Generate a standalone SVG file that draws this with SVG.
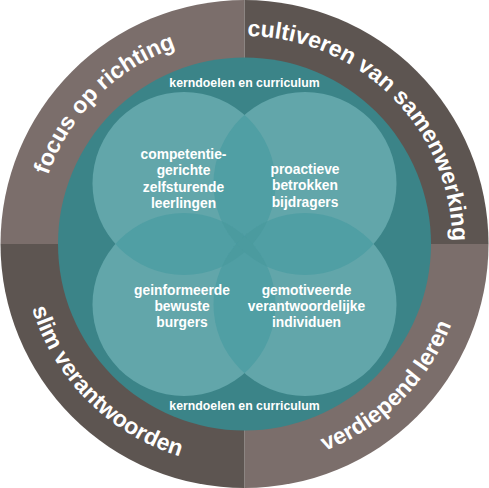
<svg xmlns="http://www.w3.org/2000/svg" xmlns:xlink="http://www.w3.org/1999/xlink" width="489" height="488" viewBox="0 0 489 488">
<style>
.ring{font-family:"Liberation Sans",Arial,sans-serif;font-weight:bold;font-size:23px;fill:#ffffff}
.lbl{font-family:"Liberation Sans",Arial,sans-serif;font-weight:bold;font-size:13.8px;fill:#ffffff;text-anchor:middle}
.cur{font-family:"Liberation Sans",Arial,sans-serif;font-weight:bold;font-size:12.3px;fill:#ffffff;text-anchor:middle}
.light{fill:#7b6e6b}
.dark{fill:#5d5551}
.c{fill:#62a6aa}
.ov{fill:#509fa4}
.ov3{fill:#4b9b9f}
</style>
<defs>
<path id="pTL" d="M36.5 244 A208 208 0 0 1 244.5 36"/>
<path id="pTR" d="M244.5 36 A208 208 0 0 1 452.5 244"/>
<path id="pBL" d="M22.5 244 A222 222 0 0 0 244.5 466"/>
<path id="pBR" d="M244.5 466 A222 222 0 0 0 466.5 244"/>
<clipPath id="kTL"><circle cx="184" cy="183.5" r="91.5"/></clipPath>
<clipPath id="kTR"><circle cx="305" cy="183.5" r="91.5"/></clipPath>
<clipPath id="kBL"><circle cx="184" cy="304.5" r="91.5"/></clipPath>
<clipPath id="kBR"><circle cx="305" cy="304.5" r="91.5"/></clipPath>
</defs>
<g id="outer-ring">
<path class="light" d="M244.5 244 L0.5 244 A244 244 0 0 1 244.5 0 Z"/>
<path class="dark" d="M244.5 244 L244.5 0 A244 244 0 0 1 488.5 244 Z"/>
<path class="light" d="M244.5 244 L488.5 244 A244 244 0 0 1 244.5 488 Z"/>
<path class="dark" d="M244.5 244 L244.5 488 A244 244 0 0 1 0.5 244 Z"/>
<text class="ring"><textPath xlink:href="#pTL" href="#pTL" startOffset="50%" text-anchor="middle">focus op richting</textPath></text>
<text class="ring"><textPath xlink:href="#pTR" href="#pTR" startOffset="50%" text-anchor="middle">cultiveren van samenwerking</textPath></text>
<text class="ring"><textPath xlink:href="#pBL" href="#pBL" startOffset="50%" text-anchor="middle">slim verantwoorden</textPath></text>
<text class="ring"><textPath xlink:href="#pBR" href="#pBR" startOffset="50%" text-anchor="middle">verdiepend leren</textPath></text>
</g>
<g id="curriculum">
<circle cx="244.5" cy="244" r="186.5" fill="#3b8488"/>
<text class="cur" x="244.5" y="87">kerndoelen en curriculum</text>
<text class="cur" x="244.5" y="410">kerndoelen en curriculum</text>
</g>
<g id="circles">
<circle class="c" cx="184" cy="183.5" r="91.5"/>
<circle class="c" cx="305" cy="183.5" r="91.5"/>
<circle class="c" cx="184" cy="304.5" r="91.5"/>
<circle class="c" cx="305" cy="304.5" r="91.5"/>
<g id="overlaps">
<circle class="ov" cx="305" cy="183.5" r="91.5" clip-path="url(#kTL)"/>
<circle class="ov" cx="184" cy="304.5" r="91.5" clip-path="url(#kTL)"/>
<circle class="ov" cx="305" cy="304.5" r="91.5" clip-path="url(#kTL)"/>
<circle class="ov" cx="184" cy="304.5" r="91.5" clip-path="url(#kTR)"/>
<circle class="ov" cx="305" cy="304.5" r="91.5" clip-path="url(#kTR)"/>
<circle class="ov" cx="305" cy="304.5" r="91.5" clip-path="url(#kBL)"/>
<g clip-path="url(#kTL)"><circle class="ov3" cx="305" cy="183.5" r="91.5" clip-path="url(#kBL)"/></g>
<g clip-path="url(#kTL)"><circle class="ov3" cx="305" cy="183.5" r="91.5" clip-path="url(#kBR)"/></g>
<g clip-path="url(#kTL)"><circle class="ov3" cx="184" cy="304.5" r="91.5" clip-path="url(#kBR)"/></g>
<g clip-path="url(#kTR)"><circle class="ov3" cx="184" cy="304.5" r="91.5" clip-path="url(#kBR)"/></g>
</g>
</g>
<g id="node-competentie">
<text class="lbl" x="183.5" y="158.5">competentie-</text>
<text class="lbl" x="183.5" y="175">gerichte</text>
<text class="lbl" x="183.5" y="191.5">zelfsturende</text>
<text class="lbl" x="183.5" y="208">leerlingen</text>
</g>
<g id="node-proactieve">
<text class="lbl" x="305" y="173.5">proactieve</text>
<text class="lbl" x="305" y="190">betrokken</text>
<text class="lbl" x="305" y="206.5">bijdragers</text>
</g>
<g id="node-geinformeerde">
<text class="lbl" x="182" y="294.5">geinformeerde</text>
<text class="lbl" x="182" y="311">bewuste</text>
<text class="lbl" x="182" y="327">burgers</text>
</g>
<g id="node-gemotiveerde">
<text class="lbl" x="306.5" y="294.5">gemotiveerde</text>
<text class="lbl" x="306.5" y="311">verantwoordelijke</text>
<text class="lbl" x="306.5" y="327">individuen</text>
</g>
<g id="connectors"/>
</svg>
